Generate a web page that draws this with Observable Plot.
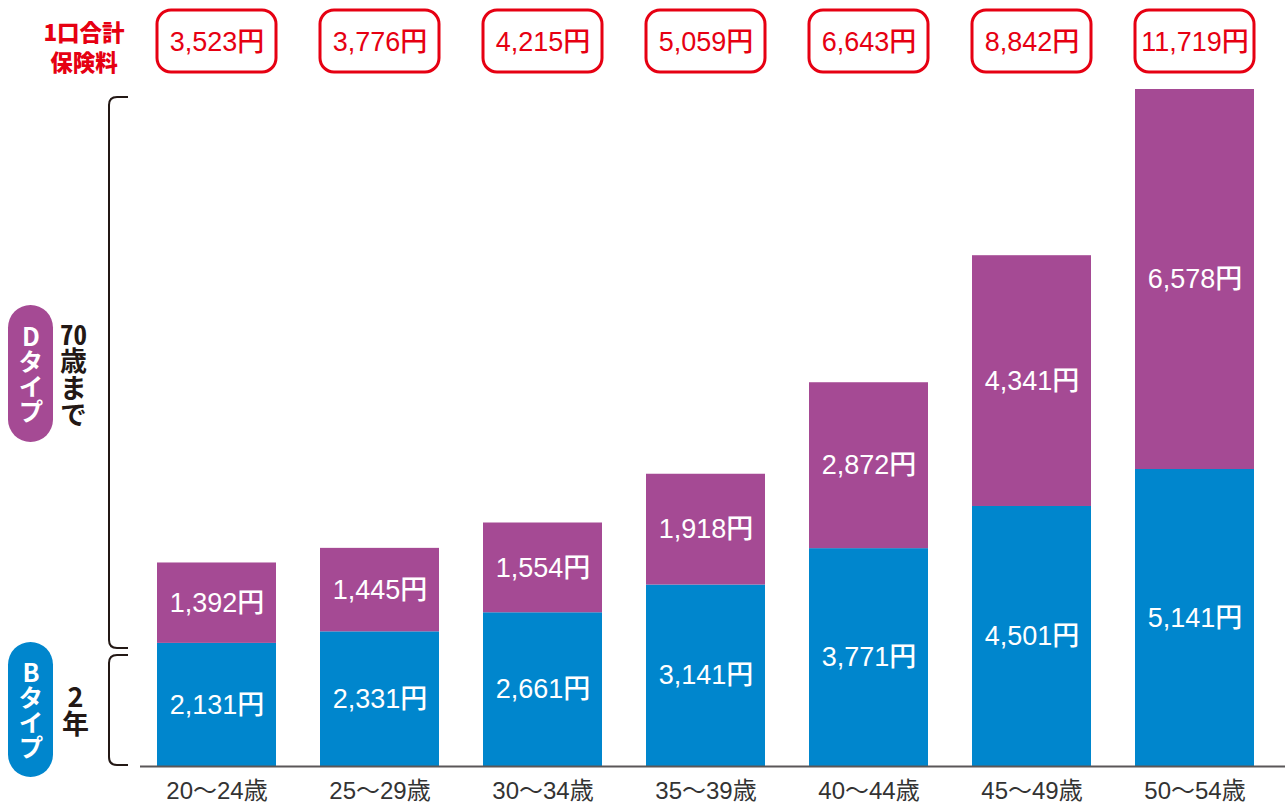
<!DOCTYPE html>
<html>
<head>
<meta charset="utf-8">
<script src="https://cdn.jsdelivr.net/npm/d3@7"></script>
<script src="https://cdn.jsdelivr.net/npm/@observablehq/plot@0.6"></script>
<style>
  html, body { margin: 0; padding: 0; background: #fff; }
  #wrap { position: relative; width: 1285px; height: 803px; overflow: hidden;
          font-family: "Liberation Sans", "Noto Sans CJK JP", sans-serif; }
  #wrap > svg.plot { position: absolute; left: 0; top: 0; }
  .ov { position: absolute; }
  .red-label { left: 24px; width: 120px; text-align: center; color: #e60012; height: 24px;
               font-family: "Noto Sans CJK JP", sans-serif; font-weight: 900; font-size: 22.5px; line-height: 24px; }
  .pill { left: 8px; width: 45px; border-radius: 23px; display: flex; align-items: center; justify-content: center;
          color: #fff; font-family: "Noto Sans CJK JP", sans-serif; font-weight: 700; font-size: 25px; }
  .vt { writing-mode: vertical-rl; line-height: 1; }
  .vt .up { text-orientation: upright; }
  .vt .tcy { text-combine-upright: all; }
  .side { color: #231815; font-family: "Noto Sans CJK JP", sans-serif; font-weight: 700; font-size: 27px; }
</style>
</head>
<body>
<div id="wrap"></div>
<script>
// ---- data ----
const ages = ["20～24歳", "25～29歳", "30～34歳", "35～39歳", "40～44歳", "45～49歳", "50～54歳"];
const typeB = [2131, 2331, 2661, 3141, 3771, 4501, 5141];   // Bタイプ 2年
const typeD = [1392, 1445, 1554, 1918, 2872, 4341, 6578];   // Dタイプ 70歳まで
const totals = [3523, 3776, 4215, 5059, 6643, 8842, 11719]; // 1口合計保険料
const seriesNames = ["B", "D"];

const blue = "#0086cd", purple = "#a54a94", red = "#e60012";
const fmt = d3.format(",");

const long = [];
ages.forEach((a, i) => {
  long.push({age: a, type: "B", value: typeB[i]});
  long.push({age: a, type: "D", value: typeD[i]});
});
const totalData = ages.map((a, i) => ({age: a, total: totals[i]}));

const plot = Plot.plot({
  width: 1285,
  height: 803,
  marginTop: 89,
  marginBottom: 37,
  marginLeft: 140,
  marginRight: 0,
  style: {fontFamily: '"Liberation Sans", "Noto Sans CJK JP", sans-serif', fontSize: "24px", color: "#333", background: "transparent"},
  x: {domain: ages, range: [156, 1255], paddingInner: 0.271, paddingOuter: 0, label: null, tickSize: 0, tickPadding: 15},
  y: {domain: [0, d3.max(totals)], axis: null},
  color: {domain: seriesNames, range: [blue, purple]},
  marks: [
    Plot.barY(long, {x: "age", y: "value", fill: "type"}),
    Plot.text(long, Plot.stackY({x: "age", y: "value", z: "type", text: d => fmt(d.value) + "円",
      fill: "white", fontSize: 27, fontWeight: 500})),
    Plot.ruleY([0], {stroke: "#5a5758", strokeWidth: 2}),
    Plot.cell(totalData, {x: "age", fill: "white", stroke: red, strokeWidth: 3, rx: 14, ry: 14,
      insetTop: -79, insetBottom: 694}),
    Plot.text(totalData, {x: "age", frameAnchor: "top", lineAnchor: "middle", dy: -47,
      text: d => fmt(d.total) + "円", fill: red, fontSize: 27, fontWeight: 500})
  ]
});

const wrap = document.getElementById("wrap");
wrap.appendChild(plot);

// ---- left-side annotations ----
const html = `
  <div class="ov red-label" style="top:19px">1口合計</div>
  <div class="ov red-label" style="top:49px">保険料</div>
  <svg class="ov" style="left:0;top:0" width="160" height="803">
    <path d="M128,97 H117 Q109,97 109,105 V640 Q109,648 117,648 H128" fill="none" stroke="#231815" stroke-width="2"/>
    <path d="M128,655 H117 Q109,655 109,663 V757 Q109,765 117,765 H128" fill="none" stroke="#231815" stroke-width="2"/>
  </svg>
  <div class="ov pill" style="top:305px;height:137px;background:${purple}"><div class="vt"><span class="up">D</span>タイプ</div></div>
  <div class="ov pill" style="top:642px;height:135px;background:${blue}"><div class="vt"><span class="up">B</span>タイプ</div></div>
  <div class="ov side vt" style="left:60px;top:320px"><span class="tcy">70</span>歳まで</div>
  <div class="ov side vt" style="left:62px;top:683px"><span class="up">2</span>年</div>
`;
wrap.insertAdjacentHTML("beforeend", html);
</script>
</body>
</html>
